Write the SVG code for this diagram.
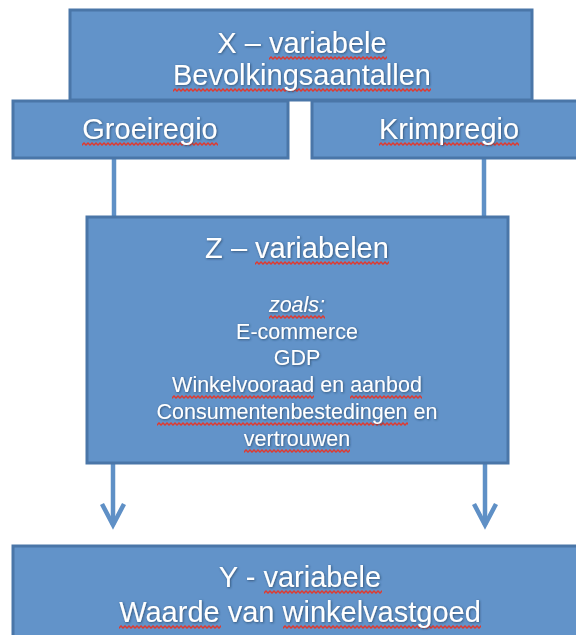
<svg xmlns="http://www.w3.org/2000/svg" width="576" height="635" viewBox="0 0 576 635">
  <defs>
    <filter id="ts" x="-10%" y="-30%" width="120%" height="160%">
      <feDropShadow dx="0.8" dy="0.8" stdDeviation="0.8" flood-color="#1f3350" flood-opacity="0.7"/>
    </filter>
    <pattern id="wave" patternUnits="userSpaceOnUse" x="0" y="0" width="4" height="4">
      <path d="M-1,2 L0,3 L2,1 L4,3 L5,2" fill="none" stroke="#de3a30" stroke-width="1.5"/>
    </pattern>
    <marker id="chev" markerUnits="userSpaceOnUse" markerWidth="40" markerHeight="40" viewBox="-30 -20 40 40" refX="0" refY="0" orient="auto" overflow="visible">
      <path d="M-21,-11 L0,0 L-21,11" fill="none" stroke="#5f90c6" stroke-width="4.5"/>
    </marker>
  </defs>
  <style>
    .box { fill: #6293c9; stroke: #4a76a8; stroke-width: 3; }
    .t { font-family: "Liberation Sans", Arial, sans-serif; fill: #ffffff; text-anchor: middle; filter: url(#ts); }
    .big { font-size: 29px; }
    .sm { font-size: 21.5px; }
    .wv { fill: url(#wave); }
    .conn { stroke: #5f90c6; stroke-width: 4.5; fill: none; }
  </style>
  <rect width="576" height="635" fill="#ffffff"/>

  <g id="connectors">
    <line class="conn" x1="114" y1="158" x2="114" y2="217"/>
    <line class="conn" x1="484" y1="158" x2="484" y2="217"/>
    <line class="conn" x1="113" y1="463" x2="113" y2="525" marker-end="url(#chev)"/>
    <line class="conn" x1="485" y1="463" x2="485" y2="525" marker-end="url(#chev)"/>
  </g>

  <g id="node-x">
    <rect class="box" x="70" y="10" width="462" height="90"/>
    <rect class="wv" transform="translate(269,56)" width="118" height="4"/>
    <rect class="wv" transform="translate(173,88)" width="258" height="4"/>
    <text class="t big" x="302" y="53">X – variabele</text>
    <text class="t big" x="302" y="85">Bevolkingsaantallen</text>
  </g>

  <g id="node-groei">
    <rect class="box" x="13" y="101" width="275" height="57"/>
    <rect class="wv" transform="translate(82,142)" width="136" height="4"/>
    <text class="t big" x="150" y="139">Groeiregio</text>
  </g>

  <g id="node-krimp">
    <rect class="box" x="312" y="101" width="275" height="57"/>
    <rect class="wv" transform="translate(379,142)" width="140" height="4"/>
    <text class="t big" x="449" y="139">Krimpregio</text>
  </g>

  <g id="node-z">
    <rect class="box" x="87" y="217" width="421" height="246"/>
    <rect class="wv" transform="translate(255,261)" width="134" height="4"/>
    <rect class="wv" transform="translate(269,315)" width="56" height="4"/>
    <rect class="wv" transform="translate(172,395)" width="142" height="4"/>
    <rect class="wv" transform="translate(350,395)" width="72" height="4"/>
    <rect class="wv" transform="translate(157,422)" width="251" height="4"/>
    <rect class="wv" transform="translate(244,449)" width="106" height="4"/>
    <text class="t big" x="297" y="258">Z – variabelen</text>
    <text class="t sm" x="297" y="312" font-style="italic">zoals:</text>
    <text class="t sm" x="297" y="339">E-commerce</text>
    <text class="t sm" x="297" y="365">GDP</text>
    <text class="t sm" x="297" y="392">Winkelvooraad en aanbod</text>
    <text class="t sm" x="297" y="419">Consumentenbestedingen en</text>
    <text class="t sm" x="297" y="446">vertrouwen</text>
  </g>

  <g id="node-y">
    <rect class="box" x="13" y="546" width="580" height="100"/>
    <rect class="wv" transform="translate(264,590)" width="118" height="4"/>
    <rect class="wv" transform="translate(119,625)" width="102" height="4"/>
    <rect class="wv" transform="translate(283,625)" width="198" height="4"/>
    <text class="t big" x="300" y="587">Y - variabele</text>
    <text class="t big" x="300" y="622">Waarde van winkelvastgoed</text>
  </g>
</svg>
